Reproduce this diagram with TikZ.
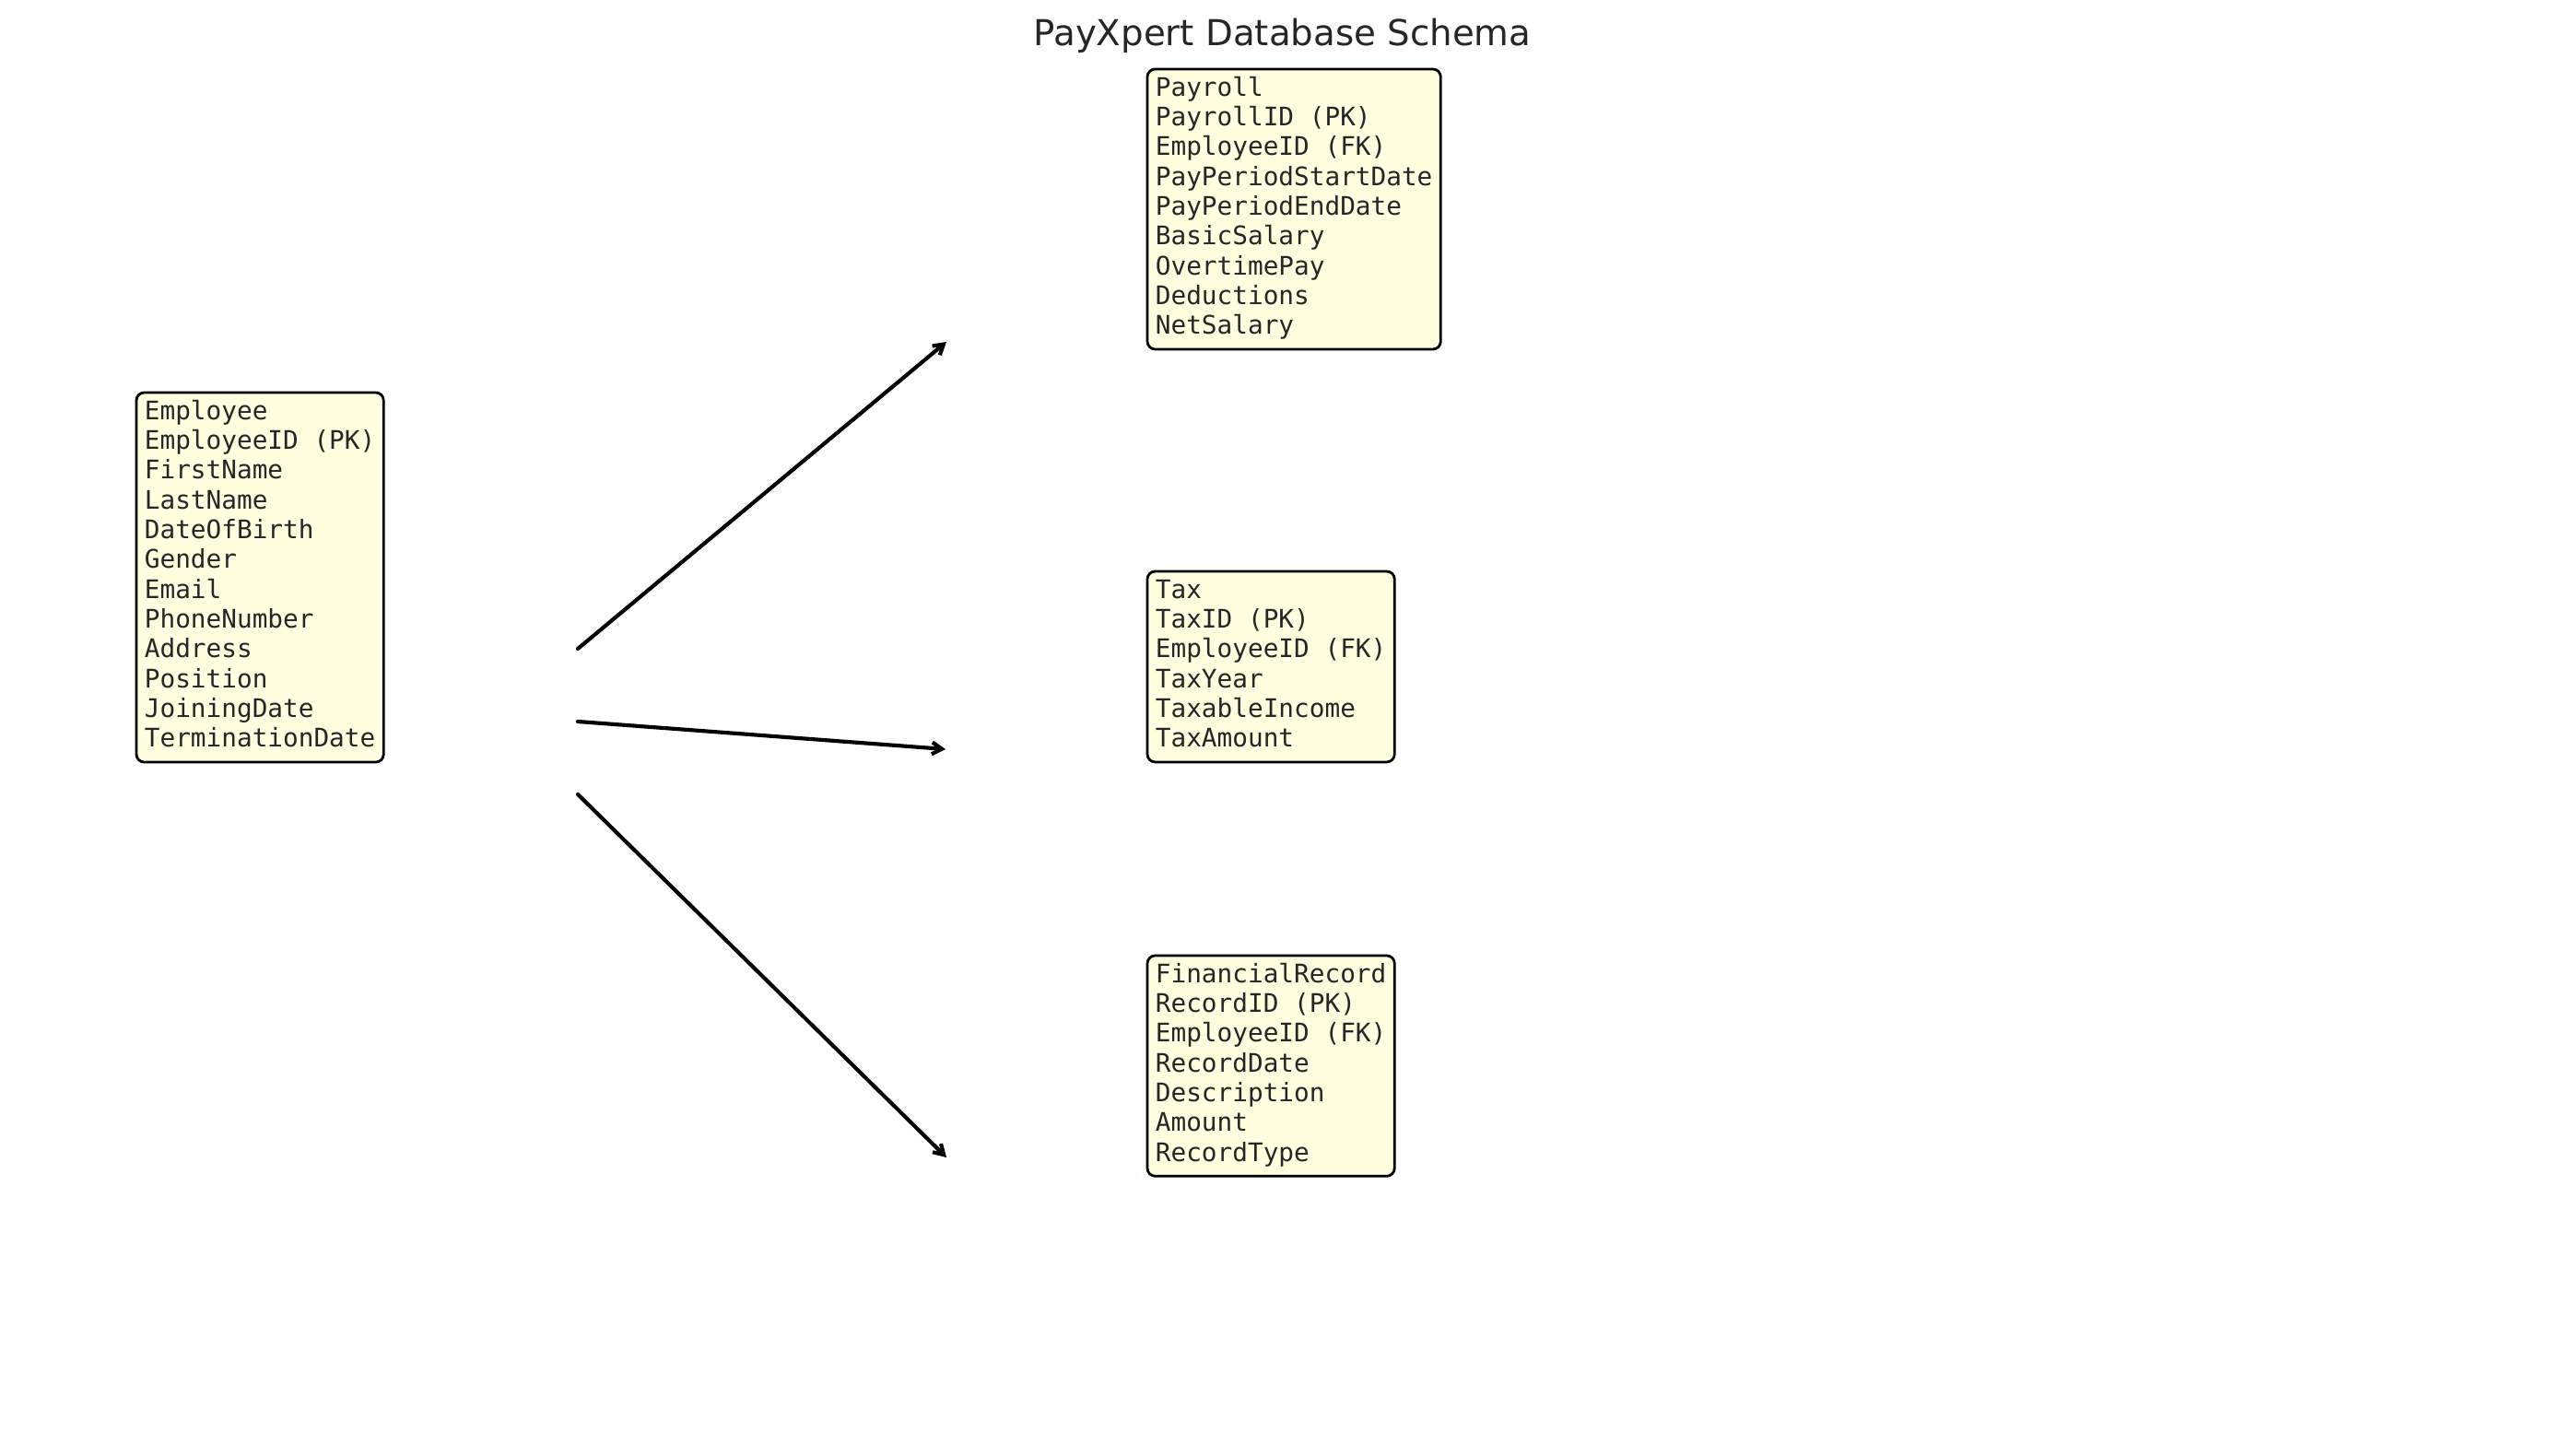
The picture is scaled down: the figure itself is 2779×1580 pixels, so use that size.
\documentclass[tikz,border=0pt]{standalone}
\usepackage{fontspec}
\setsansfont{DejaVu Sans}
\setmonofont{DejaVu Sans Mono}
\usetikzlibrary{arrows.meta}
\definecolor{lightyellow}{HTML}{FFFFE0}
\definecolor{inkgray}{HTML}{262626}

\begin{document}
\begin{tikzpicture}[
    x = 0.28125pt, y = -0.28125pt,
    entity/.style = {draw, fill=lightyellow, line width=0.78pt, rounded corners=2.4pt,
        anchor=north west, align=left, text=inkgray, outer sep=0pt,
        font=\ttfamily\fontsize{7.8}{9.1}\selectfont,
        inner xsep=2.5pt, inner ysep=1.8pt,
        execute at end node=\strut},
    link/.style = {line width=1.17pt, line cap=round, line join=round,
        -{Straight Barb[length=3pt, width=3.6pt]}}
]

% Canvas
\path[fill=white, use as bounding box] (0,0) rectangle (2779,1580);

% Title
\node[anchor=base, text=inkgray, font=\sffamily\fontsize{10.9}{13}\selectfont]
    (title) at (1391.5,50) {PayXpert Database Schema};

% Tables
\node[entity] (employee) at (148,426) {\strut Employee\\EmployeeID (PK)\\FirstName\\LastName\\DateOfBirth\\Gender\\Email\\PhoneNumber\\Address\\Position\\JoiningDate\\TerminationDate};
\node[entity] (payroll) at (1245,75) {\strut Payroll\\PayrollID (PK)\\EmployeeID (FK)\\PayPeriodStartDate\\PayPeriodEndDate\\BasicSalary\\OvertimePay\\Deductions\\NetSalary};
\node[entity] (tax) at (1245,620) {\strut Tax\\TaxID (PK)\\EmployeeID (FK)\\TaxYear\\TaxableIncome\\TaxAmount};
\node[entity] (record) at (1245,1037) {\strut FinancialRecord\\RecordID (PK)\\EmployeeID (FK)\\RecordDate\\Description\\Amount\\RecordType};

% Arrow ends
\coordinate (from1) at (627,704);
\coordinate (from2) at (627,783);
\coordinate (from3) at (627,862);
\coordinate (to1) at (1027,371);
\coordinate (to2) at (1026,813);
\coordinate (to3) at (1027,1256);

% Relations
\draw[link] (from1) -- (to1);
\draw[link] (from2) -- (to2);
\draw[link] (from3) -- (to3);

\end{tikzpicture}
\end{document}
